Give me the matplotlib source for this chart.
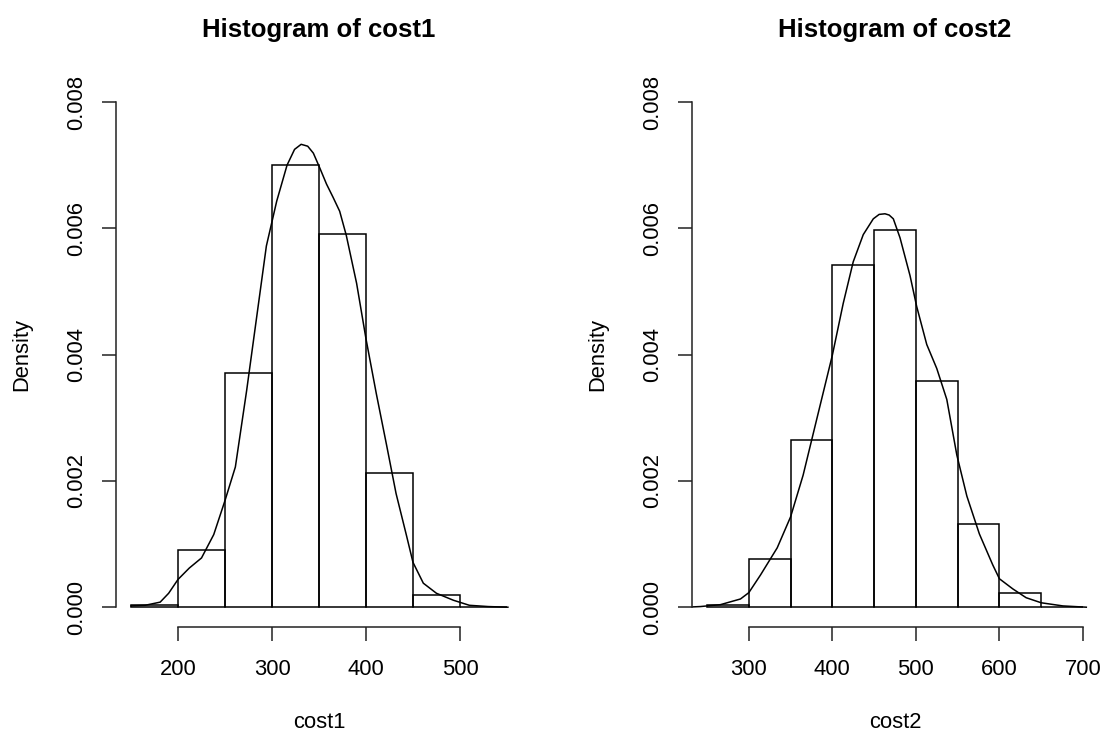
import numpy as np
import matplotlib.pyplot as plt

plt.rcParams['font.family'] = ['Liberation Sans', 'DejaVu Sans']

# histogram 1 (density scale)
breaks1 = [150, 200, 250, 300, 350, 400, 450, 500, 550]
dens1 = [0.00004, 0.0009, 0.00371, 0.00701, 0.00591, 0.00213, 0.0002, 0.0]
# kernel density curve 1
kx1 = [150, 165, 181, 190, 200, 212, 225, 238, 250, 261, 273, 284, 294, 305, 316,
       324, 331, 338, 344, 351, 358, 365, 372, 379, 390, 400, 411, 422, 432, 443,
       450, 461, 475, 493, 510, 530, 551]
ky1 = [0.00002, 0.00003, 0.00008, 0.00022, 0.00044, 0.00062, 0.00078, 0.00115, 0.00169,
       0.00222, 0.00343, 0.00463, 0.00572, 0.00643, 0.00700, 0.00725, 0.00733, 0.00730,
       0.00719, 0.00695, 0.00670, 0.00649, 0.00627, 0.00589, 0.00513, 0.00425, 0.00338,
       0.00256, 0.00180, 0.00114, 0.00071, 0.00038, 0.00022, 0.00011, 0.00003, 0.00001, 0.0]

# histogram 2
breaks2 = [250, 300, 350, 400, 450, 500, 550, 600, 650, 700]
dens2 = [0.00004, 0.00076, 0.00264, 0.00542, 0.00598, 0.00358, 0.00132, 0.00023, 0.0]
kx2 = [225, 242, 266, 290, 300, 314, 334, 350, 365, 381, 400, 413, 425, 437, 449,
       456, 463, 468, 473, 481, 493, 501, 513, 525, 537, 549, 561, 576, 592, 600,
       616, 632, 650, 676, 704]
ky2 = [0.0, 0.00001, 0.00004, 0.00013, 0.00023, 0.00051, 0.00094, 0.00143, 0.00209,
       0.00296, 0.00399, 0.00481, 0.00547, 0.00590, 0.00615, 0.00622, 0.00623, 0.00621,
       0.00615, 0.00585, 0.00525, 0.00476, 0.00416, 0.00378, 0.00329, 0.00241, 0.00176,
       0.00116, 0.00067, 0.00045, 0.00029, 0.00015, 0.00007, 0.00002, 0.0]

titles = ["Histogram of cost1", "Histogram of cost2"]
xlabels = ["cost1", "cost2"]
xticks = [[200, 300, 400, 500], [300, 400, 500, 600, 700]]
yticks = [0.000, 0.002, 0.004, 0.006, 0.008]

W, H = 1105, 738
fig = plt.figure(figsize=(W / 100, H / 100), dpi=100)

panels = [(116, breaks1, dens1, kx1, ky1, (134, 566)),
          (692, breaks2, dens2, kx2, ky2, (232, 718))]

fs = 15.8
for i, (px, br, de, kx, ky, xl) in enumerate(panels):
    ax = fig.add_axes([px / W, (H - 627.4) / H, 406 / W, 545.6 / H])
    ax.bar(br[:-1], de, width=np.diff(br), align='edge', fill=False,
           edgecolor='black', linewidth=1.1)
    ax.plot(kx, ky, color='black', linewidth=1.1)
    ax.set_xlim(*xl)
    ax.set_ylim(-0.00032, 0.00832)

    for s in ['top', 'right']:
        ax.spines[s].set_visible(False)
    ax.spines['left'].set_bounds(0, 0.008)
    ax.spines['bottom'].set_bounds(xticks[i][0], xticks[i][-1])
    for s in ['left', 'bottom']:
        ax.spines[s].set_linewidth(1.1)
        ax.spines[s].set_color('#222222')

    ax.set_xticks(xticks[i])
    ax.set_yticks(yticks)
    ax.set_yticklabels(["%.3f" % v for v in yticks])
    ax.tick_params(direction='out', length=10, width=1.1, color='#222222',
                   labelsize=fs)
    ax.tick_params(axis='x', pad=13)
    ax.tick_params(axis='y', pad=11)
    for lab in ax.get_yticklabels():
        lab.set_rotation(90)
        lab.set_va('center')

    ax.set_title(titles[i], fontsize=18.5, fontweight='bold', pad=32)
    ax.set_xlabel(xlabels[i], fontsize=fs, labelpad=23)
    ax.set_ylabel("Density", fontsize=fs, labelpad=24)

fig.savefig("out.png", dpi=100)
